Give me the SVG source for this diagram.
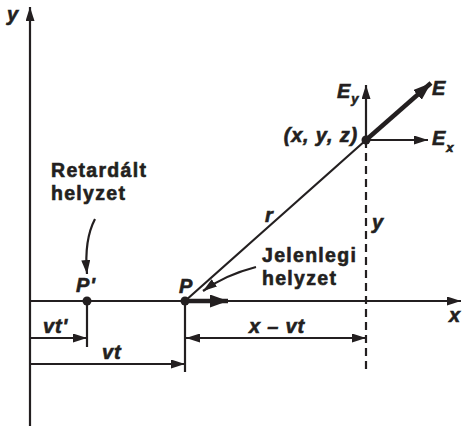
<svg xmlns="http://www.w3.org/2000/svg" width="462" height="426" viewBox="0 0 462 426">
<style>
  .ln { stroke:#231f20; stroke-width:2.2; fill:none; }
  .thick { stroke:#231f20; stroke-width:4.5; fill:none; }
  .dash { stroke:#231f20; stroke-width:2.2; fill:none; stroke-dasharray:8 5; }
  .dot { fill:#231f20; }
  .lbl { font-family:"Liberation Sans", Arial, sans-serif; font-weight:bold; font-size:19.5px; letter-spacing:1.3px; fill:#231f20; stroke:#231f20; stroke-width:0.6px; }
  .math { font-family:"Liberation Sans", Arial, sans-serif; font-weight:bold; font-style:italic; font-size:20px; letter-spacing:0.8px; fill:#231f20; stroke:#231f20; stroke-width:0.6px; }
  .sub { font-size:13px; letter-spacing:0; }
</style>
<defs>
  <marker id="ah" markerUnits="userSpaceOnUse" markerWidth="15" markerHeight="9" refX="14" refY="4.5" orient="auto-start-reverse">
    <path d="M0,0 L14,4.5 L0,9 Z" fill="#231f20"/>
  </marker>
  <marker id="ahL" markerUnits="userSpaceOnUse" markerWidth="19" markerHeight="13" refX="18" refY="6.5" orient="auto">
    <path d="M0,0 L18,6.5 L0,13 Z" fill="#231f20"/>
  </marker>
</defs>

<g id="axes">
  <line id="y-axis" class="ln" x1="30" y1="426" x2="30" y2="7" marker-end="url(#ah)"/>
  <line id="x-axis" class="ln" x1="30" y1="301" x2="461" y2="301" marker-end="url(#ah)"/>
  <text class="math" x="7" y="21">y</text>
  <text class="math" x="449" y="322">x</text>
</g>

<g id="connectors">
  <line class="ln" x1="185" y1="301" x2="366" y2="140"/>
  <line class="dash" x1="366" y1="140" x2="366" y2="372"/>
  <line class="ln" x1="87" y1="301" x2="87" y2="347"/>
  <line class="ln" x1="185" y1="301" x2="185" y2="372"/>
  <line class="ln" x1="30" y1="338" x2="87" y2="338" marker-end="url(#ah)"/>
  <line class="ln" x1="30" y1="364" x2="185" y2="364" marker-end="url(#ah)"/>
  <line class="ln" x1="186" y1="338" x2="366" y2="338" marker-start="url(#ah)" marker-end="url(#ah)"/>
  <path class="ln" d="M95,219 Q84,240 87,274" marker-end="url(#ah)"/>
  <path class="ln" d="M256,267 Q225,275 203,291" marker-end="url(#ah)"/>
  <line class="thick" x1="185" y1="301" x2="228" y2="301" marker-end="url(#ahL)"/>
  <line class="ln" x1="366" y1="140" x2="366" y2="85" marker-end="url(#ah)"/>
  <line class="ln" x1="366" y1="140" x2="428" y2="140" marker-end="url(#ah)"/>
  <line class="thick" x1="366" y1="140" x2="431" y2="83" marker-end="url(#ahL)"/>
</g>

<g id="retarded">
  <circle class="dot" cx="87" cy="301" r="4.5"/>
  <text class="math" x="76" y="292">P'</text>
  <text class="lbl" x="51" y="177">Retardált</text>
  <text class="lbl" x="51" y="200">helyzet</text>
</g>

<g id="present">
  <circle class="dot" cx="185" cy="301" r="4.5"/>
  <text class="math" x="179" y="293">P</text>
  <text class="lbl" x="262" y="262">Jelenlegi</text>
  <text class="lbl" x="262" y="285">helyzet</text>
</g>

<g id="field-point">
  <circle class="dot" cx="366" cy="140" r="4.5"/>
  <text class="math" x="358" y="142" text-anchor="end">(x, y, z)</text>
  <text class="math" x="432" y="95">E</text>
  <text class="math" x="337" y="98">E<tspan class="sub" dy="5">y</tspan></text>
  <text class="math" x="432" y="145">E<tspan class="sub" dy="7">x</tspan></text>
</g>

<g id="labels">
  <text class="math" x="265" y="222">r</text>
  <text class="math" x="372" y="229">y</text>
  <text class="math" x="43" y="333">vt'</text>
  <text class="math" x="102" y="359">vt</text>
  <text class="math" x="277" y="333" text-anchor="middle">x – vt</text>
</g>
</svg>
